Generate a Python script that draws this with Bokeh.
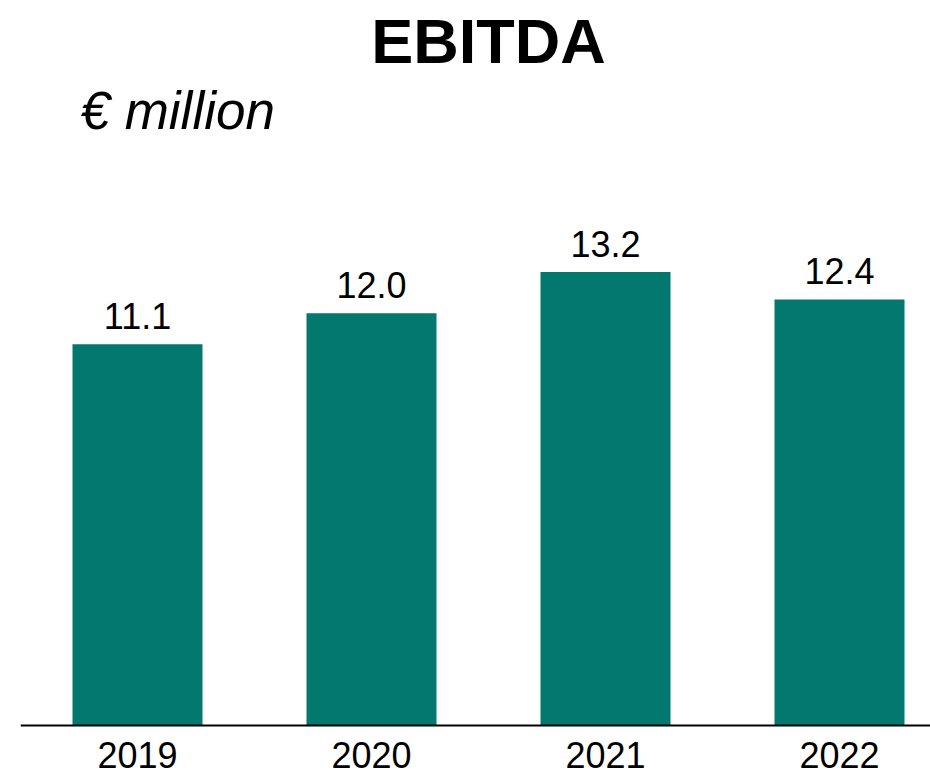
from bokeh.plotting import figure
from bokeh.models import Range1d, Span, Label, ColumnDataSource
from bokeh.core.properties import value
from bokeh.embed import file_html
from bokeh.resources import INLINE

# ---- data ----
years = ["2019", "2020", "2021", "2022"]
ebitda = [11.1, 12.0, 13.2, 12.4]
value_labels = [f"{v:.1f}" for v in ebitda]
title_text = "EBITDA"
unit_text = "€ million"

TEAL = "#03786F"
FONT = "Liberation Sans"

xpos = [i + 0.5 for i in range(len(years))]
src = ColumnDataSource(dict(x=xpos, v=ebitda, label=value_labels, year=years))

p = figure(
    width=930, height=776,
    output_backend="svg", toolbar_location=None,
    x_range=Range1d(0, 3.8889), y_range=Range1d(-1.4847, 21.106),
    x_axis_location=None, y_axis_location=None,
    min_border=0, min_border_left=20, min_border_right=0,
    min_border_top=0, min_border_bottom=0,
    outline_line_color=None, background_fill_color="white",
    border_fill_color="white",
)
p.xgrid.grid_line_color = None
p.ygrid.grid_line_color = None

p.vbar(x="x", top="v", bottom=0, width=0.5556, source=src,
       fill_color=TEAL, line_color=None)

# baseline (category axis line)
p.add_layout(Span(location=0, dimension="width", line_color="black", line_width=2))

# value labels
p.text(x="x", y="v", text="label", source=src,
       text_align="center", text_baseline="alphabetic", y_offset=-28.5,
       text_font=value(FONT), text_font_size="36px", text_color="black")

# category labels
p.text(x="x", y=0, text="year", source=src,
       text_align="center", text_baseline="alphabetic", y_offset=30,
       text_font=value(FONT), text_font_size="36px", text_color="black")

# title and unit
p.add_layout(Label(x=2.0, y=19.93, text=title_text, text_align="center",
                   text_baseline="alphabetic", text_font=FONT,
                   text_font_size="63px", text_font_style="bold",
                   text_color="black"))
p.add_layout(Label(x=0.2564, y=17.90, text=unit_text, text_align="left",
                   text_baseline="alphabetic", text_font=FONT,
                   text_font_size="53px", text_font_style="italic",
                   text_color="black"))

open("out.html", "w").write(file_html(p, INLINE))
